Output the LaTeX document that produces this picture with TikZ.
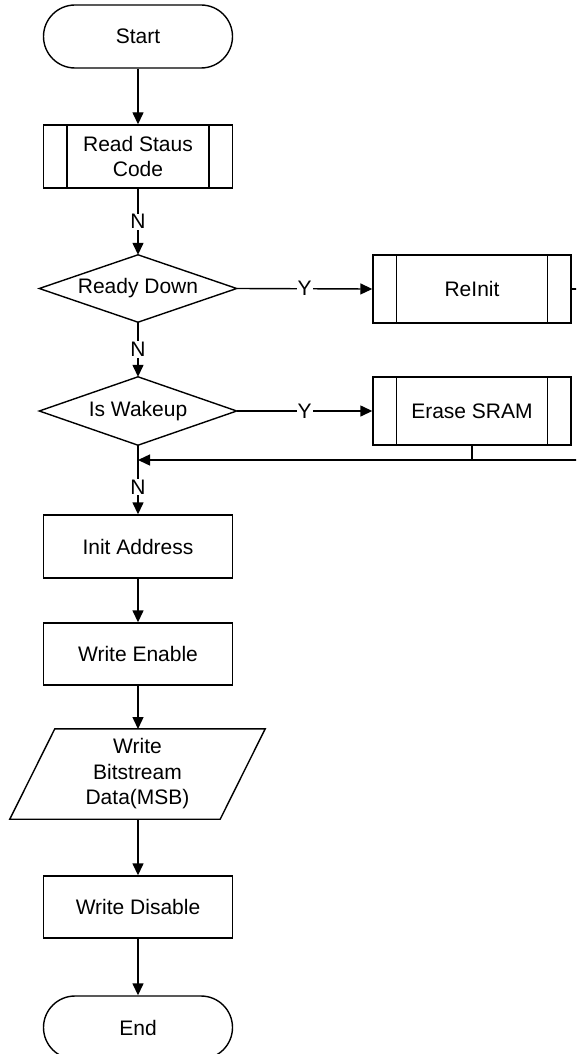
\documentclass[tikz,border=0pt]{standalone}
\usepackage{fontspec}
\setmainfont{Liberation Sans}
\usetikzlibrary{arrows.meta}
\begin{document}
\begin{tikzpicture}[x=1pt,y=-1pt,
  txt/.style={font=\fontsize{21}{25.5}\selectfont},
  base/.style={txt, draw, line width=1.4pt, inner sep=0pt, align=center},
  term/.style={base, rounded corners=31.5pt, minimum width=189pt, minimum height=63pt},
  proc/.style={base, minimum width=189pt, minimum height=63pt},
  subproc/.style={base, path picture={
      \draw[line width=1.4pt] ([xshift=23.5pt]path picture bounding box.north west) -- ([xshift=23.5pt]path picture bounding box.south west);
      \draw[line width=1.4pt] ([xshift=-23.5pt]path picture bounding box.north east) -- ([xshift=-23.5pt]path picture bounding box.south east);}},
  hidden/.style={txt, inner sep=0pt, align=center},
  shapeline/.style={line width=1.4pt, line join=miter},
  arr/.style={line width=1.4pt, -{Triangle[length=12pt,width=11pt]}},
  conn/.style={line width=1.4pt},
  lab/.style={txt, fill=white, inner sep=1pt}
]
\useasboundingbox (0,0) rectangle (576,1054);
\clip (0,0) rectangle (576,1054);

\node[term] (start) at (138,36.5) {Start};
\node[subproc, minimum width=189pt, minimum height=63pt] (read) at (138,156.5) {Read Staus\\Code};

\node[hidden, minimum width=197pt, minimum height=67pt] (rd) at (138,288.5) {Ready Down};
\draw[shapeline] (rd.north) -- (rd.east) -- (rd.south) -- (rd.west) -- cycle;

\node[hidden, minimum width=197pt, minimum height=68pt] (wake) at (138,411) {Is Wakeup};
\draw[shapeline] (wake.north) -- (wake.east) -- (wake.south) -- (wake.west) -- cycle;

\node[subproc, minimum width=198pt, minimum height=68pt] (reinit) at (472,289) {ReInit};
\node[subproc, minimum width=198pt, minimum height=68pt] (erase) at (472,411) {Erase SRAM};

\node[proc] (init) at (138,546.5) {Init Address};
\node[proc, minimum height=62pt] (wen) at (138,654) {Write Enable};

\node[hidden, minimum width=255pt, minimum height=90pt] (io) at (137.5,774) {Write\\Bitstream\\Data(MSB)};
\draw[shapeline] ([xshift=45pt]io.north west) -- (io.north east) -- ([xshift=-45pt]io.south east) -- (io.south west) -- cycle;

\node[proc, minimum height=62pt] (wdis) at (138,907) {Write Disable};
\node[term] (end) at (138,1027.5) {End};

\coordinate (j) at (138,460);

\draw[arr] (start) -- (read);
\draw[arr] (read) -- node[lab]{N} (rd.north);
\draw[arr] (rd.south) -- node[lab]{N} (wake.north);
\draw[arr] (rd.east) -- node[lab]{Y} (reinit.west);
\draw[arr] (wake.east) -- node[lab]{Y} (erase.west);
\draw[conn] (wake.south) -- (j);
\draw[arr] (j) -- node[lab]{N} (init);
\draw[arr] (reinit.east) -- ++(30,0) |- (j);
\draw[conn] (erase.south) -- (erase.south |- j);
\draw[arr] (init) -- (wen);
\draw[arr] (wen) -- (138,729);
\draw[arr] (138,819) -- (wdis);
\draw[arr] (wdis) -- (end);
\end{tikzpicture}
\end{document}
